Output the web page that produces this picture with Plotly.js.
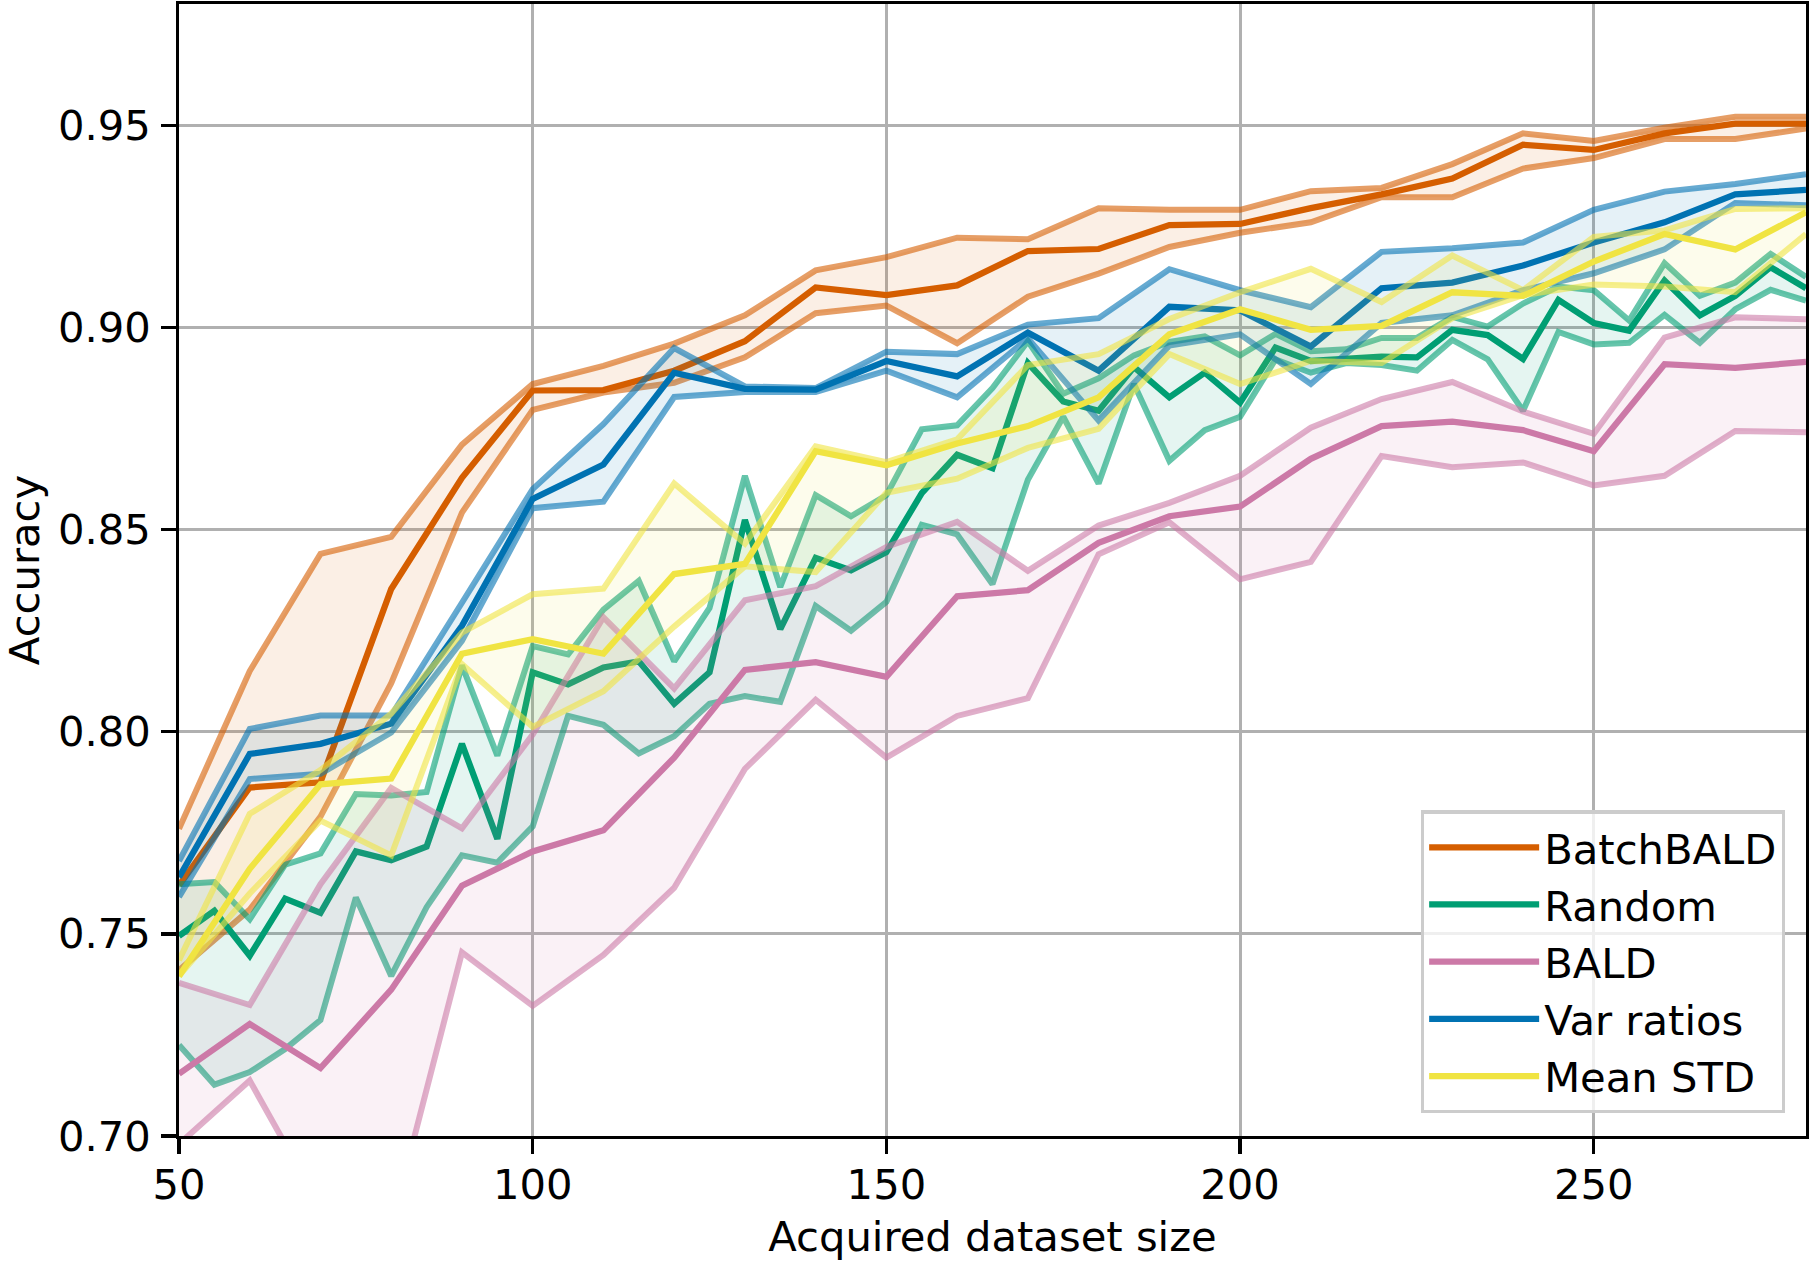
<!DOCTYPE html>
<html>
<head>
<meta charset="utf-8">
<script src="https://cdn.plot.ly/plotly-3.0.1.min.js"></script>
<style>
  html, body { margin: 0; padding: 0; background: #ffffff; }
  #chart { width: 1809px; height: 1261px; }
</style>
</head>
<body>
<div id="chart"></div>
<script>
// ---- Data ----
const xStep10 = [50,60,70,80,90,100,110,120,130,140,150,160,170,180,190,200,210,220,230,240,250,260,270,280];
const xStep5 = [50,55,60,65,70,75,80,85,90,95,100,105,110,115,120,125,130,135,140,145,150,155,160,165,170,175,180,185,190,195,200,205,210,215,220,225,230,235,240,245,250,255,260,265,270,275,280];

const batchbaldMean  = [0.762,0.7862,0.7875,0.8353,0.8628,0.8844,0.8845,0.8893,0.8966,0.9099,0.9080,0.9104,0.9189,0.9194,0.9253,0.9256,0.9295,0.9329,0.9368,0.9452,0.9439,0.9480,0.9504,0.9504];
const batchbaldUpper = [0.7760,0.8150,0.8440,0.8482,0.8710,0.8860,0.8905,0.8960,0.9030,0.9141,0.9174,0.9222,0.9218,0.9295,0.9291,0.9291,0.9337,0.9345,0.9404,0.9480,0.9461,0.9494,0.9521,0.9521];
const batchbaldLower = [0.7410,0.7560,0.7790,0.8120,0.8542,0.8796,0.8839,0.8863,0.8926,0.9035,0.9054,0.8961,0.9076,0.9133,0.9199,0.9234,0.9260,0.9322,0.9322,0.9393,0.9419,0.9466,0.9466,0.9492];

const randomMean  = [0.7495,0.7557,0.7446,0.7587,0.7552,0.7704,0.7682,0.7716,0.7970,0.7735,0.8147,0.8117,0.8159,0.8174,0.8069,0.8147,0.8524,0.8254,0.8430,0.8399,0.8444,0.8590,0.8685,0.8652,0.8912,0.8817,0.8794,0.8902,0.8827,0.8888,0.8814,0.8950,0.8917,0.8922,0.8928,0.8926,0.8994,0.8981,0.8922,0.9068,0.9011,0.8992,0.9116,0.9030,0.9078,0.9149,0.9097];
const randomUpper = [0.7623,0.7628,0.7536,0.7671,0.7699,0.7846,0.7842,0.7851,0.8164,0.7941,0.8212,0.8191,0.8302,0.8373,0.8174,0.8306,0.8633,0.8358,0.8585,0.8533,0.8585,0.8748,0.8758,0.8850,0.8966,0.8836,0.8874,0.8931,0.8964,0.8978,0.8931,0.8984,0.8941,0.8946,0.8974,0.8974,0.9026,0.9002,0.9059,0.9101,0.9092,0.9017,0.9159,0.9078,0.9111,0.9182,0.9125];
const randomLower = [0.7225,0.7127,0.7158,0.7215,0.7287,0.7590,0.7396,0.7566,0.7694,0.7676,0.7766,0.8039,0.8017,0.7946,0.7989,0.8069,0.8088,0.8074,0.8311,0.8250,0.8321,0.8512,0.8488,0.8365,0.8623,0.8779,0.8614,0.8860,0.8670,0.8746,0.8779,0.8921,0.8888,0.8912,0.8907,0.8893,0.8969,0.8921,0.8794,0.8989,0.8958,0.8962,0.9031,0.8962,0.9045,0.9093,0.9066];

const baldMean  = [0.7154,0.7277,0.7168,0.7362,0.7619,0.7704,0.7756,0.7936,0.8153,0.8172,0.8136,0.8335,0.8350,0.8467,0.8533,0.8557,0.8675,0.8756,0.8767,0.8746,0.8694,0.8909,0.8900,0.8915];
const baldUpper = [0.7379,0.7324,0.7623,0.7861,0.7761,0.7993,0.8283,0.8107,0.8325,0.8360,0.8457,0.8519,0.8398,0.8510,0.8566,0.8633,0.8752,0.8823,0.8865,0.8792,0.8737,0.8975,0.9025,0.9020];
const baldLower = [0.6980,0.7137,0.6824,0.6776,0.7454,0.7322,0.7448,0.7614,0.7908,0.8079,0.7936,0.8039,0.8083,0.8439,0.8518,0.8377,0.8420,0.8682,0.8654,0.8666,0.8609,0.8633,0.8744,0.8741];

const varMean  = [0.7640,0.7945,0.7970,0.8020,0.8262,0.8576,0.8661,0.8888,0.8848,0.8846,0.8917,0.8879,0.8987,0.8893,0.9051,0.9042,0.8953,0.9097,0.9111,0.9153,0.9210,0.9260,0.9329,0.9340];
const varUpper = [0.7680,0.8007,0.8040,0.8040,0.8319,0.8600,0.8761,0.8949,0.8854,0.8850,0.8940,0.8934,0.9007,0.9023,0.9144,0.9092,0.9050,0.9187,0.9196,0.9210,0.9291,0.9336,0.9355,0.9379];
const varLower = [0.7591,0.7883,0.7896,0.7998,0.8225,0.8553,0.8569,0.8828,0.8840,0.8840,0.8893,0.8827,0.8973,0.8770,0.8955,0.8983,0.8860,0.9011,0.9030,0.9092,0.9134,0.9193,0.9308,0.9302];

const stdMean  = [0.7395,0.7661,0.7870,0.7884,0.8193,0.8229,0.8193,0.8390,0.8415,0.8694,0.8659,0.8713,0.8756,0.8827,0.8983,0.9045,0.8994,0.9004,0.9087,0.9078,0.9163,0.9231,0.9193,0.9285];
const stdUpper = [0.7435,0.7797,0.7905,0.8045,0.8245,0.8340,0.8354,0.8614,0.8465,0.8706,0.8667,0.8723,0.8907,0.8934,0.9021,0.9087,0.9145,0.9063,0.9178,0.9092,0.9224,0.9240,0.9293,0.9295];
const stdLower = [0.7396,0.7600,0.7780,0.7694,0.8167,0.8012,0.8100,0.8260,0.8409,0.8395,0.8591,0.8626,0.8702,0.8749,0.8934,0.8860,0.8917,0.8912,0.9023,0.9080,0.9106,0.9101,0.9087,0.9231];

const seriesNames = ["BatchBALD", "Random", "BALD", "Var ratios", "Mean STD"];
const xTicks = [50, 100, 150, 200, 250];
const yTicks = [0.70, 0.75, 0.80, 0.85, 0.90, 0.95];

// ---- Styling ----
const colors = ["213,94,0", "0,158,115", "204,121,167", "0,114,178", "240,228,66"];
const series = [
  {x: xStep10, mean: batchbaldMean, upper: batchbaldUpper, lower: batchbaldLower},
  {x: xStep5,  mean: randomMean,    upper: randomUpper,    lower: randomLower},
  {x: xStep10, mean: baldMean,      upper: baldUpper,      lower: baldLower},
  {x: xStep10, mean: varMean,       upper: varUpper,       lower: varLower},
  {x: xStep10, mean: stdMean,       upper: stdUpper,       lower: stdLower}
];

const traces = [];
series.forEach((s, i) => {
  const c = colors[i];
  traces.push({
    x: s.x, y: s.lower, type: "scatter", mode: "lines",
    line: {color: `rgba(${c},0.6)`, width: 6},
    showlegend: false, hoverinfo: "skip"
  });
  traces.push({
    x: s.x, y: s.upper, type: "scatter", mode: "lines",
    line: {color: `rgba(${c},0.6)`, width: 6},
    fill: "tonexty", fillcolor: `rgba(${c},0.1)`,
    showlegend: false, hoverinfo: "skip"
  });
  traces.push({
    x: s.x, y: s.mean, type: "scatter", mode: "lines",
    name: seriesNames[i],
    line: {color: `rgb(${c})`, width: 6.25}
  });
});

const fontFam = "DejaVu Sans, sans-serif";
const layout = {
  width: 1809, height: 1261,
  margin: {l: 179, r: 3, t: 4, b: 125, pad: 0},
  paper_bgcolor: "#ffffff",
  plot_bgcolor: "#ffffff",
  font: {family: fontFam, size: 41.7, color: "#000000"},
  showlegend: true,
  legend: {
    x: 0.987, y: 0.02, xanchor: "right", yanchor: "bottom",
    traceorder: "normal",
    bgcolor: "rgba(255,255,255,0.8)",
    bordercolor: "#cccccc", borderwidth: 3.3,
    font: {family: fontFam, size: 41.7, color: "#000000"},
    itemwidth: 110,
    tracegroupgap: 0
  },
  xaxis: {
    range: [50, 280],
    tickvals: xTicks,
    ticktext: xTicks.map(String),
    ticks: "outside", ticklen: 14.6, tickwidth: 3.3, tickcolor: "#000000",
    ticklabelstandoff: -5,
    showgrid: true, gridcolor: "#b0b0b0", gridwidth: 3,
    showline: true, linecolor: "#000000", linewidth: 3.3, mirror: true,
    zeroline: false,
    title: {text: "Acquired dataset size", font: {family: fontFam, size: 41.7, color: "#000000"}, standoff: 29}
  },
  yaxis: {
    range: [0.70, 0.98],
    tickvals: yTicks,
    ticktext: yTicks.map(v => v.toFixed(2)),
    ticks: "outside", ticklen: 14.6, tickwidth: 3.3, tickcolor: "#000000",
    ticklabelstandoff: 2,
    showgrid: true, gridcolor: "#b0b0b0", gridwidth: 3,
    showline: true, linecolor: "#000000", linewidth: 3.3, mirror: true,
    zeroline: false,
    title: {text: "Accuracy", font: {family: fontFam, size: 41.7, color: "#000000"}, standoff: 36}
  }
};

Plotly.newPlot("chart", traces, layout, {displayModeBar: false, staticPlot: true});
</script>
</body>
</html>
